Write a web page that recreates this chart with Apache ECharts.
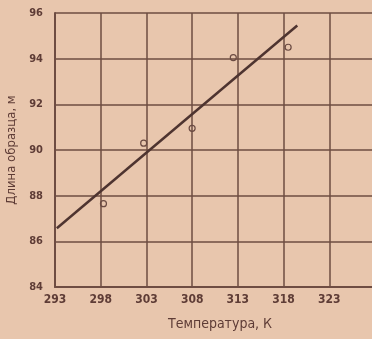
<!DOCTYPE html>
<html>
<head>
<meta charset="utf-8">
<script src="https://cdn.jsdelivr.net/npm/echarts@6/dist/echarts.min.js"></script>
<style>
html,body{margin:0;padding:0;background:#e8c6ad;}
#chart{width:372px;height:339px;}
</style>
</head>
<body>
<div id="chart"></div>
<script>
// Measured points (temperature K, sample length m)
const pointT = [298.3, 302.7, 308.0, 312.5, 318.5];
const pointL = [87.65, 90.3, 90.95, 94.05, 94.5];
// Fitted line endpoints
const lineT = [293.2, 319.5];
const lineL = [86.57, 95.45];
// Axis ticks
const xTicks = [293, 298, 303, 308, 313, 318, 323];
const yTicks = [84, 86, 88, 90, 92, 94, 96];
const xName = 'Температура, К';
const yName = 'Длина образца, м';

const ink = '#5e3c36';
const gridInk = '#6e4c42';
const font = 'DejaVu Sans Condensed';

const chart = echarts.init(document.getElementById('chart'));
chart.setOption({
  backgroundColor: '#e8c6ad',
  animation: false,
  grid: {left: 55, top: 13, right: -3, bottom: 52, containLabel: false, outerBoundsMode: 'none'},
  xAxis: {
    type: 'value', min: 293, max: 328, interval: 5,
    name: xName, nameLocation: 'middle', nameGap: 30,
    nameTextStyle: {color: ink, fontFamily: font, fontSize: 14, padding: [0, 0, 0, 10]},
    axisLine: {show: true, lineStyle: {color: gridInk, width: 2}},
    axisTick: {show: false},
    axisLabel: {color: ink, fontFamily: font, fontSize: 12, fontWeight: 'bold', margin: 7,
      formatter: v => xTicks.indexOf(v) >= 0 ? String(v) : ''},
    splitLine: {show: true, lineStyle: {color: gridInk, width: 1.5}}
  },
  yAxis: {
    type: 'value', min: 84, max: 96, interval: 2,
    name: yName, nameLocation: 'middle', nameGap: 37, nameRotate: 90,
    nameTextStyle: {color: ink, fontFamily: font, fontSize: 13},
    axisLine: {show: true, lineStyle: {color: gridInk, width: 2}},
    axisTick: {show: false},
    axisLabel: {color: ink, fontFamily: font, fontSize: 11, fontWeight: 'bold', margin: 12,
      formatter: v => yTicks.indexOf(v) >= 0 ? String(v) : ''},
    splitLine: {show: true, lineStyle: {color: gridInk, width: 1.5}}
  },
  series: [
    {
      type: 'line', data: lineT.map((t, i) => [t, lineL[i]]),
      symbol: 'none', lineStyle: {color: '#4e3430', width: 2.5}, z: 3
    },
    {
      type: 'scatter', data: pointT.map((t, i) => [t, pointL[i]]),
      symbol: 'circle', symbolSize: 6,
      itemStyle: {color: 'rgba(0,0,0,0)', borderColor: '#6a4a42', borderWidth: 1.2, opacity: 1}, z: 4
    }
  ]
});
</script>
</body>
</html>
